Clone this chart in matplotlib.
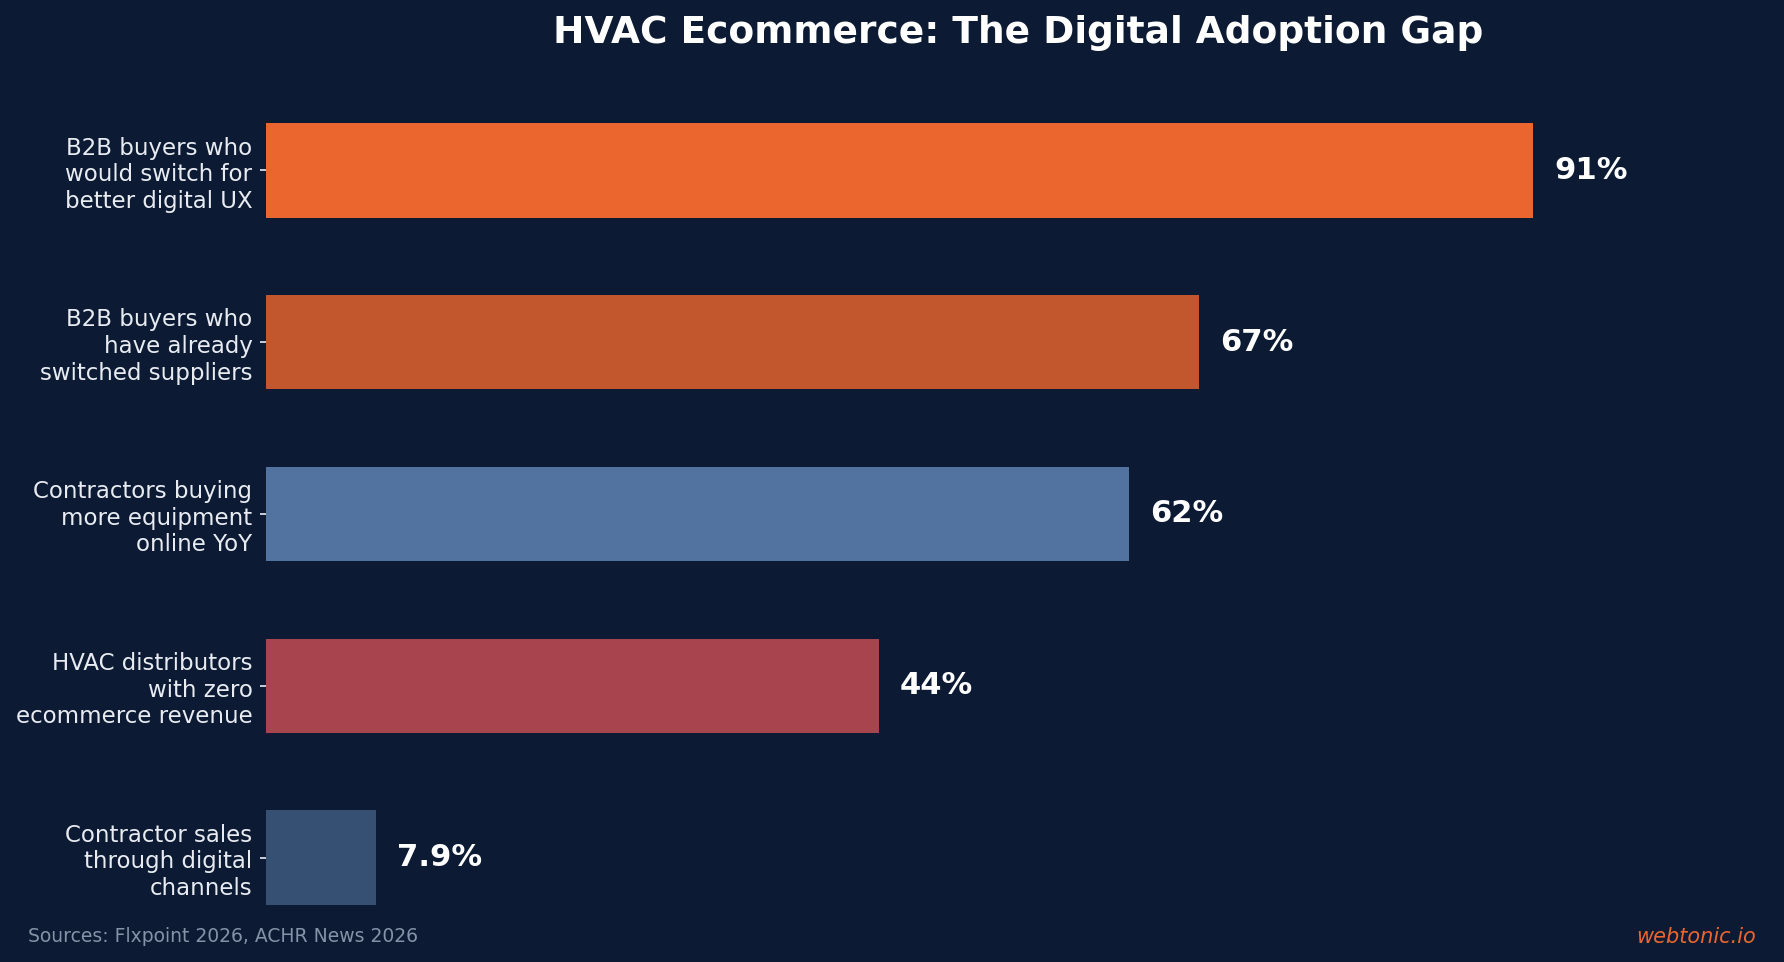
import matplotlib.pyplot as plt

# data
labels = [
    "B2B buyers who\nwould switch for\nbetter digital UX",
    "B2B buyers who\nhave already\nswitched suppliers",
    "Contractors buying\nmore equipment\nonline YoY",
    "HVAC distributors\nwith zero\necommerce revenue",
    "Contractor sales\nthrough digital\nchannels",
]
values = [91, 67, 62, 44, 7.9]
value_text = ["91%", "67%", "62%", "44%", "7.9%"]
colors = ["#EB652F", "#C2572E", "#5273A0", "#A8444D", "#365073"]

bg = "#0C1B33"

fig = plt.figure(figsize=(1784 / 150, 962 / 150), dpi=150, facecolor=bg)
ax = fig.add_axes([266 / 1784, 18 / 962, 1504 / 1784, 860 / 962])
ax.set_facecolor(bg)

y = list(range(len(values)))
ax.barh(y, values, height=0.55, color=colors)
ax.set_ylim(4.5025, -0.5025)
ax.set_xlim(0, 108)

for yi, v, t in zip(y, values, value_text):
    ax.text(v + 1.5, yi, t, va="center", ha="left", color="white",
            fontsize=14.7, fontweight="bold")

ax.set_yticks(y)
ax.set_yticklabels(labels, fontsize=11, color="#E8ECF2")
ax.tick_params(axis="y", colors="#E8ECF2", length=3, labelcolor="#E8ECF2")
ax.set_xticks([])
for s in ax.spines.values():
    s.set_visible(False)

fig.text(1018 / 1784, 1 - 33 / 962, "HVAC Ecommerce: The Digital Adoption Gap",
         ha="center", va="center", color="white", fontsize=18, fontweight="bold")
fig.text(28 / 1784, 1 - 937 / 962, "Sources: Flxpoint 2026, ACHR News 2026",
         ha="left", va="center", color="#8593A8", fontsize=9)
fig.text(1756 / 1784, 1 - 937 / 962, "webtonic.io", ha="right", va="center",
         color="#EB652F", fontsize=10, style="italic")

fig.savefig("out.png", dpi=150, facecolor=bg)
